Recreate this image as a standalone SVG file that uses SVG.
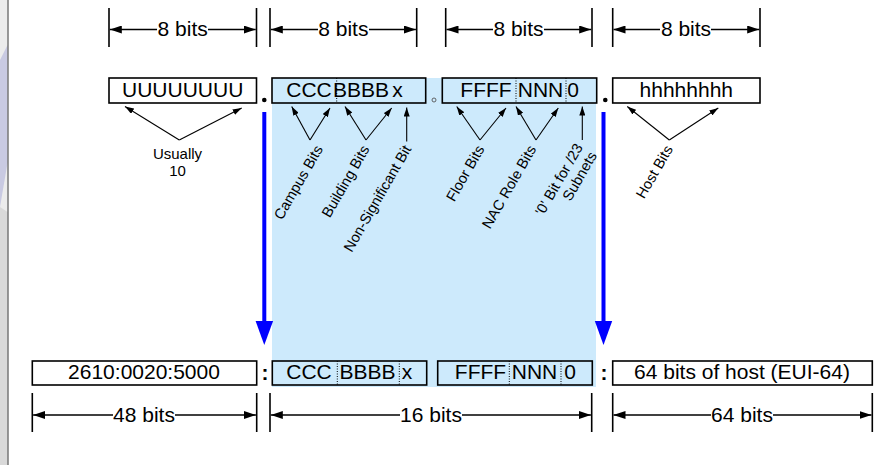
<svg xmlns="http://www.w3.org/2000/svg" width="889" height="465" viewBox="0 0 889 465">
  <defs>
    <marker id="dim" viewBox="0 0 12 8" refX="12" refY="4" markerWidth="12" markerHeight="8" orient="auto" markerUnits="userSpaceOnUse">
      <path d="M0,0 L12,4 L0,8 z" fill="#000"/>
    </marker>
    <marker id="tip" viewBox="0 0 9 6" refX="9" refY="3" markerWidth="9" markerHeight="6" orient="auto" markerUnits="userSpaceOnUse">
      <path d="M0,0 L9,3 L0,6 z" fill="#000"/>
    </marker>
    <style>
      text { font-family: "Liberation Sans", Arial, sans-serif; fill: #000; }
      .mid { font-size: 21px; text-anchor: middle; }
      .note { font-size: 15px; }
      .rot { font-size: 14.6px; text-anchor: end; }
      .box { stroke: #000; stroke-width: 1.6; }
      .plain { fill: #fff; }
      .blue { fill: #cdeafc; }
      .div { stroke: #000; stroke-width: 1; stroke-dasharray: 1 1.5; }
      .tick { stroke: #000; stroke-width: 1.6; }
      .dimline { stroke: #000; stroke-width: 1.3; fill: none; marker-end: url(#dim); }
      .ann { stroke: #000; stroke-width: 1.1; fill: none; marker-end: url(#tip); }
      .down { stroke: #0000ff; stroke-width: 4; }
    </style>
  </defs>

  <!-- page edge strip -->
  <g id="edge">
    <rect x="0" y="0" width="7.5" height="465" fill="#ececec"/>
    <polygon points="0,60 7.5,45 7.5,163 0,207" fill="#c9cae2"/>
    <polygon points="0,207 7.5,212 7.5,465 0,465" fill="#d9d9d9"/>
    <line x1="8" y1="0" x2="8" y2="465" stroke="#555" stroke-width="1.2"/>
  </g>

  <!-- shaded band covering the campus / floor octets -->
  <rect id="band" x="272" y="78" width="324" height="309" fill="#cdeafc"/>

  <!-- top dimension lines -->
  <g id="dims-top">
    <line class="tick" x1="109" y1="8" x2="109" y2="47"/>
    <line class="tick" x1="256.5" y1="8" x2="256.5" y2="47"/>
    <path class="dimline" d="M157,29.5 H109.8"/>
    <path class="dimline" d="M208,29.5 H255.7"/>
    <text class="mid" x="182.7" y="36">8 bits</text>

    <line class="tick" x1="270" y1="8" x2="270" y2="47"/>
    <line class="tick" x1="416.7" y1="8" x2="416.7" y2="47"/>
    <path class="dimline" d="M318,29.5 H270.8"/>
    <path class="dimline" d="M369,29.5 H415.9"/>
    <text class="mid" x="343.3" y="36">8 bits</text>

    <line class="tick" x1="445.7" y1="8" x2="445.7" y2="47"/>
    <line class="tick" x1="592" y1="8" x2="592" y2="47"/>
    <path class="dimline" d="M493,29.5 H446.5"/>
    <path class="dimline" d="M544,29.5 H591.2"/>
    <text class="mid" x="518.5" y="36">8 bits</text>

    <line class="tick" x1="612.7" y1="8" x2="612.7" y2="47"/>
    <line class="tick" x1="760" y1="8" x2="760" y2="47"/>
    <path class="dimline" d="M660,29.5 H613.5"/>
    <path class="dimline" d="M711,29.5 H759.2"/>
    <text class="mid" x="686" y="36">8 bits</text>
  </g>

  <!-- IPv4 octets -->
  <g id="octet1">
    <rect class="box plain" x="109" y="78" width="147.5" height="25"/>
    <text class="mid" x="182.7" y="97">UUUUUUUU</text>
  </g>
  <circle cx="264.3" cy="100" r="2.3" fill="#000"/>
  <g id="octet2">
    <rect class="box blue" x="272" y="78" width="153.7" height="25"/>
    <line class="div" x1="336.7" y1="78" x2="336.7" y2="103"/>
    <text class="mid" x="309" y="97">CCC</text>
    <text class="mid" x="361" y="97">BBBB</text>
    <text class="mid" x="397.5" y="97">x</text>
  </g>
  <circle cx="434" cy="100" r="2" fill="none" stroke="#555" stroke-width="0.9"/>
  <g id="octet3">
    <rect class="box blue" x="442.3" y="78" width="154.4" height="25"/>
    <line class="div" x1="516" y1="78" x2="516" y2="103"/>
    <line class="div" x1="566" y1="78" x2="566" y2="103"/>
    <text class="mid" x="486" y="97">FFFF</text>
    <text class="mid" x="540.5" y="97">NNN</text>
    <text class="mid" x="573" y="97">0</text>
  </g>
  <circle cx="605.3" cy="100" r="2.3" fill="#000"/>
  <g id="octet4">
    <rect class="box plain" x="612.7" y="78" width="147.3" height="25"/>
    <text class="mid" x="686.3" y="97">hhhhhhhh</text>
  </g>

  <!-- field annotations -->
  <g id="notes">
    <path class="ann" d="M179.3,140 L125,106.5"/>
    <path class="ann" d="M179.3,140 L241.7,108"/>
    <text class="note" x="177.5" y="158.5" text-anchor="middle">Usually</text>
    <text class="note" x="177.5" y="175.5" text-anchor="middle">10</text>

    <path class="ann" d="M310,140 L291.7,106.5"/>
    <path class="ann" d="M310,140 L330,108"/>
    <text class="rot" transform="translate(323.3,149) rotate(-60)">Campus Bits</text>

    <path class="ann" d="M366,140 L345,106.5"/>
    <path class="ann" d="M366,140 L391.7,108"/>
    <text class="rot" transform="translate(370,149) rotate(-60)">Building Bits</text>

    <path class="ann" d="M406.7,141.5 L406.7,107.5"/>
    <text class="rot" transform="translate(411.7,149) rotate(-60)">Non-Significant Bit</text>

    <path class="ann" d="M480,140 L456.7,106.5"/>
    <path class="ann" d="M480,140 L506,108"/>
    <text class="rot" transform="translate(485,149) rotate(-60)">Floor Bits</text>

    <path class="ann" d="M536,140 L516,106.5"/>
    <path class="ann" d="M536,140 L558.3,108"/>
    <text class="rot" transform="translate(536.7,149) rotate(-60)">NAC Role Bits</text>

    <path class="ann" d="M582.3,140 L582.3,106.5"/>
    <text class="rot" transform="translate(583.3,147.2) rotate(-60)">'0' Bit for /23</text>
    <text class="rot" transform="translate(597.3,155.5) rotate(-60)">Subnets</text>

    <path class="ann" d="M669.3,140 L627.3,106.5"/>
    <path class="ann" d="M669.3,140 L718.3,108"/>
    <text class="rot" transform="translate(673.3,149) rotate(-60)">Host Bits</text>
  </g>

  <!-- mapping arrows -->
  <g id="connectors">
    <line class="down" x1="264.3" y1="112" x2="264.3" y2="323"/>
    <polygon points="255.6,321 273.1,321 264.3,345" fill="#0000ff"/>
    <line class="down" x1="603.5" y1="112" x2="603.5" y2="323"/>
    <polygon points="594.8,321 612.2,321 603.5,345" fill="#0000ff"/>
  </g>

  <!-- IPv6 address fields -->
  <g id="prefix">
    <rect class="box plain" x="32.3" y="361" width="224.4" height="24"/>
    <text class="mid" x="144" y="379">2610:0020:5000</text>
  </g>
  <text class="mid" x="265" y="380" font-weight="bold">:</text>
  <g id="campus-building">
    <rect class="box blue" x="272.3" y="361" width="154.4" height="24"/>
    <line class="div" x1="337.3" y1="361" x2="337.3" y2="385"/>
    <line class="div" x1="399.3" y1="361" x2="399.3" y2="385"/>
    <text class="mid" x="309" y="379">CCC</text>
    <text class="mid" x="367.5" y="379">BBBB</text>
    <text class="mid" x="407" y="379">x</text>
  </g>
  <g id="floor-role">
    <rect class="box blue" x="437.7" y="361" width="154.6" height="24"/>
    <line class="div" x1="509.3" y1="361" x2="509.3" y2="385"/>
    <line class="div" x1="561" y1="361" x2="561" y2="385"/>
    <text class="mid" x="480.5" y="379">FFFF</text>
    <text class="mid" x="534.5" y="379">NNN</text>
    <text class="mid" x="570" y="379">0</text>
  </g>
  <text class="mid" x="604" y="380" font-weight="bold">:</text>
  <g id="host">
    <rect class="box plain" x="612.7" y="361" width="259.6" height="24"/>
    <text class="mid" x="742" y="379">64 bits of host (EUI-64)</text>
  </g>

  <!-- bottom dimension lines -->
  <g id="dims-bottom">
    <line class="tick" x1="32.3" y1="393" x2="32.3" y2="432"/>
    <line class="tick" x1="256.7" y1="393" x2="256.7" y2="432"/>
    <path class="dimline" d="M113,415 H33.1"/>
    <path class="dimline" d="M175,415 H255.9"/>
    <text class="mid" x="144" y="421.5">48 bits</text>

    <line class="tick" x1="270" y1="393" x2="270" y2="432"/>
    <line class="tick" x1="591.7" y1="393" x2="591.7" y2="432"/>
    <path class="dimline" d="M400,415 H270.8"/>
    <path class="dimline" d="M462,415 H590.9"/>
    <text class="mid" x="431" y="421.5">16 bits</text>

    <line class="tick" x1="612.7" y1="393" x2="612.7" y2="432"/>
    <line class="tick" x1="872.3" y1="393" x2="872.3" y2="432"/>
    <path class="dimline" d="M711,415 H613.5"/>
    <path class="dimline" d="M773,415 H871.5"/>
    <text class="mid" x="742" y="421.5">64 bits</text>
  </g>
</svg>
